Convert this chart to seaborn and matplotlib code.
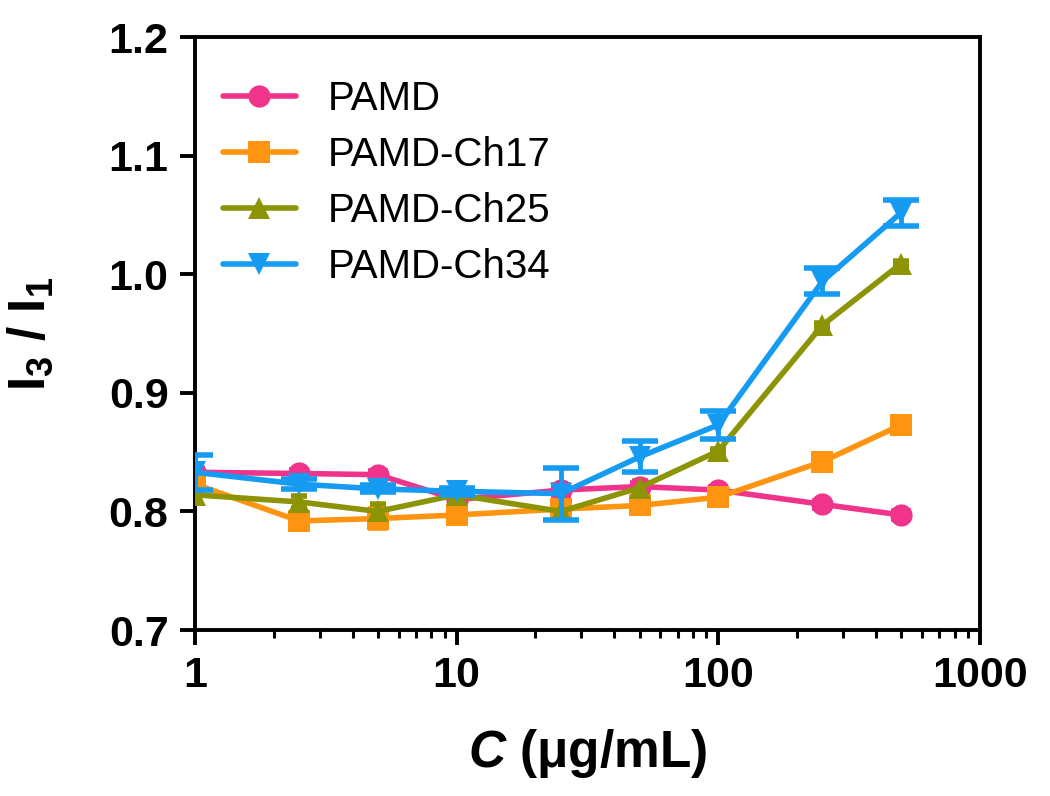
import numpy as np
import pandas as pd
import matplotlib
matplotlib.use("Agg")
import matplotlib.pyplot as plt
import seaborn as sns
from matplotlib.ticker import FixedLocator, LogLocator, NullFormatter

sns.set_style("ticks")
plt.rcParams['font.family'] = ['Liberation Sans', 'DejaVu Sans']
plt.rcParams['mathtext.fontset'] = 'custom'
plt.rcParams['mathtext.rm'] = 'Liberation Sans'
plt.rcParams['mathtext.bf'] = 'Liberation Sans:bold'
plt.rcParams['mathtext.it'] = 'Liberation Sans:italic:bold'
plt.rcParams['text.color'] = 'black'
plt.rcParams['axes.labelcolor'] = 'black'
plt.rcParams['xtick.color'] = 'black'
plt.rcParams['ytick.color'] = 'black'

# ---- data ----
conc = [1, 2.5, 5, 10, 25, 50, 100, 250, 500]
series_names = ["PAMD", "PAMD-Ch17", "PAMD-Ch25", "PAMD-Ch34"]
pamd = [0.833, 0.832, 0.831, 0.810, 0.818, 0.821, 0.818, 0.806, 0.797]
pamd_err = [0.003, 0.003, 0.003, 0.003, 0.004, 0.003, 0.003, 0.003, 0.003]
ch17 = [0.823, 0.792, 0.794, 0.797, 0.802, 0.805, 0.812, 0.842, 0.873]
ch17_err = [0.004, 0.004, 0.008, 0.003, 0.003, 0.004, 0.003, 0.003, 0.003]
ch25 = [0.814, 0.808, 0.800, 0.814, 0.800, 0.820, 0.851, 0.957, 1.009]
ch25_err = [0.006, 0.005, 0.006, 0.003, 0.003, 0.006, 0.002, 0.002, 0.002]
ch34 = [0.833, 0.823, 0.819, 0.817, 0.815, 0.846, 0.873, 0.994, 1.052]
ch34_err = [0.015, 0.004, 0.003, 0.003, 0.022, 0.013, 0.012, 0.011, 0.011]
y_ticks = [0.7, 0.8, 0.9, 1.0, 1.1, 1.2]
x_ticks = [1, 10, 100, 1000]

values = [pamd, ch17, ch25, ch34]
errors = [pamd_err, ch17_err, ch25_err, ch34_err]
colors = ["#F0348C", "#FF9410", "#8C9405", "#169BF2"]
markers = ["o", "s", "^", "v"]
capsizes = [7, 7, 6, 13]

rows = []
for name, vals, errs in zip(series_names, values, errors):
    for c, v, e in zip(conc, vals, errs):
        rows.append({"C": c, "ratio": v, "err": e, "sample": name})
df = pd.DataFrame(rows)

fig = plt.figure(figsize=(10.5, 7.96), dpi=100)
ax = fig.add_axes([0.1857, 0.2085, 0.9333 - 0.1857, 0.9535 - 0.2085])

palette = dict(zip(series_names, colors))
mk = dict(zip(series_names, markers))

sns.lineplot(data=df, x="C", y="ratio", hue="sample", style="sample",
             palette=palette, markers=mk, dashes=False, hue_order=series_names,
             style_order=series_names, ax=ax, zorder=3, legend=True)

for ln in ax.get_lines():
    ln.set_linewidth(4)
    ln.set_markersize(16)
    ln.set_markeredgewidth(0)

for name, cs in zip(series_names, capsizes):
    sub = df[df["sample"] == name]
    ax.errorbar(sub["C"], sub["ratio"], yerr=sub["err"], fmt="none",
                ecolor=palette[name], elinewidth=3.5, capsize=cs, capthick=4,
                zorder=4 if cs > 10 else 2)

ax.set_xscale("log")
ax.set_xlim(1, 1000)
ax.set_ylim(0.7, 1.2)
ax.xaxis.set_major_locator(FixedLocator(x_ticks))
ax.set_xticklabels([str(t) for t in x_ticks])
ax.xaxis.set_minor_locator(LogLocator(base=10, subs=np.arange(2, 10)))
ax.xaxis.set_minor_formatter(NullFormatter())
ax.yaxis.set_major_locator(FixedLocator(y_ticks))
ax.set_yticklabels([f"{t:.1f}" for t in y_ticks])

for sp in ax.spines.values():
    sp.set_linewidth(2.8)
    sp.set_color("black")
    sp.set_visible(True)

ax.tick_params(axis="both", which="major", length=11, width=2.8, direction="out",
               labelsize=31, pad=8, colors="black")
ax.tick_params(axis="x", which="minor", length=6, width=2.2, direction="out", colors="black")
ax.tick_params(axis="y", which="minor", length=0)
for lab in ax.get_xticklabels() + ax.get_yticklabels():
    lab.set_fontweight("bold")

ax.set_xlabel(r"$\mathit{C}$ (μg/mL)", fontsize=37, fontweight="bold", labelpad=22)
ax.set_ylabel(r"$\mathbf{I_3}$ / $\mathbf{I_1}$", fontsize=37, fontweight="bold", labelpad=38)

handles, labels = ax.get_legend_handles_labels()
leg = ax.legend(handles=handles, labels=labels, loc="upper left",
                bbox_to_anchor=(0.0, 0.975), frameon=False, fontsize=29,
                handlelength=1.8, handletextpad=0.8, labelspacing=0.45,
                borderaxespad=0.3)
for h in leg.legend_handles:
    h.set_linewidth(4)
    h.set_markersize(16)
    h.set_markeredgewidth(0)
for t in leg.get_texts():
    t.set_color("black")

fig.savefig("out.png", dpi=100)
